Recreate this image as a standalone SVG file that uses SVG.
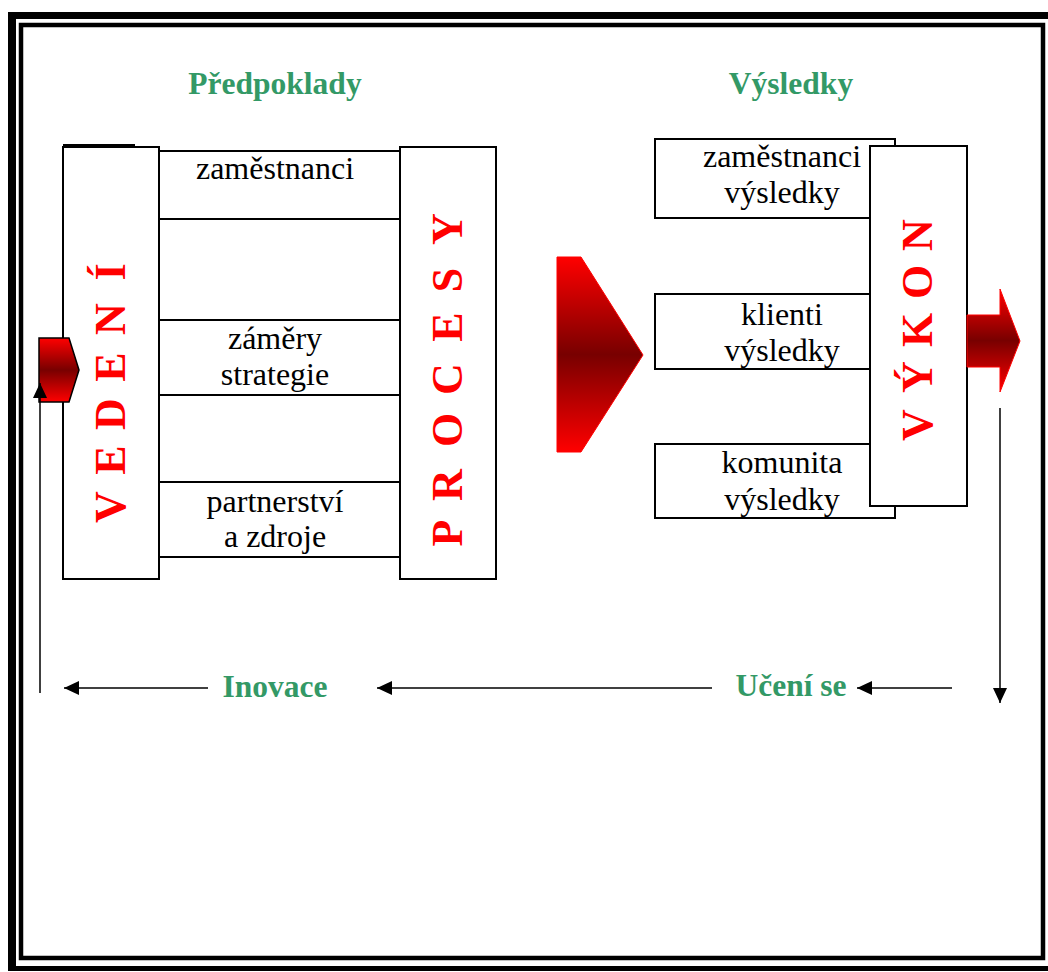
<svg xmlns="http://www.w3.org/2000/svg" width="1048" height="972" viewBox="0 0 1048 972">
<style>
.box{fill:#fff;stroke:#000;stroke-width:2}
.lbl{font-family:"Liberation Serif","Times New Roman",serif;font-size:32px;fill:#000;text-anchor:middle}
.ttl{font-family:"Liberation Serif","Times New Roman",serif;font-size:31.5px;font-weight:bold;fill:#339966;text-anchor:middle}
.vert{font-family:"Liberation Serif","Times New Roman",serif;font-size:44px;font-weight:bold;fill:#ff0000;text-anchor:middle}
.conn{stroke:#000;stroke-width:1.5;fill:none;marker-end:url(#ah)}
</style>
<defs>
<linearGradient id="rg" x1="0" y1="0" x2="0" y2="1">
<stop offset="0" stop-color="#ff0000"/>
<stop offset="0.5" stop-color="#780000"/>
<stop offset="1" stop-color="#ff0000"/>
</linearGradient>
<marker id="ah" markerUnits="userSpaceOnUse" markerWidth="15" markerHeight="14" refX="15" refY="7" orient="auto">
<path d="M0,0 L15,7 L0,14 z" fill="#000"/>
</marker>
</defs>
<rect width="1048" height="972" fill="#fff"/>
<g id="frame">
<rect x="8" y="12" width="1040" height="7" fill="#000"/>
<rect x="8" y="12" width="8" height="959" fill="#000"/>
<rect x="8" y="966" width="1040" height="5" fill="#000"/>
<rect x="21" y="25" width="1022" height="933" fill="none" stroke="#000" stroke-width="4.5"/>
</g>
<g id="title-predpoklady"><text class="ttl" x="275" y="94">Předpoklady</text></g>
<g id="title-vysledky"><text class="ttl" x="791" y="94">Výsledky</text></g>
<g id="zamestnanci">
<rect class="box" x="140" y="151" width="280" height="68"/>
<text class="lbl" x="275" y="179">zaměstnanci</text>
</g>
<g id="zamery">
<rect class="box" x="140" y="320" width="280" height="75"/>
<text class="lbl" x="275" y="349">záměry</text>
<text class="lbl" x="275" y="385">strategie</text>
</g>
<g id="partnerstvi">
<rect class="box" x="140" y="482" width="280" height="75"/>
<text class="lbl" x="275" y="512">partnerství</text>
<text class="lbl" x="275" y="547">a zdroje</text>
</g>
<g id="vedeni">
<line x1="63" y1="145" x2="135" y2="145" stroke="#000" stroke-width="2"/>
<rect class="box" x="63" y="147" width="96" height="432"/>
<text class="vert" transform="translate(125,0) rotate(-90)"><tspan x="-507" y="0">V</tspan><tspan x="-460" y="0">E</tspan><tspan x="-414" y="0">D</tspan><tspan x="-367" y="0">E</tspan><tspan x="-319" y="0">N</tspan><tspan x="-272" y="0">Í</tspan></text>
</g>
<g id="procesy">
<rect class="box" x="400" y="147" width="96" height="432"/>
<text class="vert" transform="translate(462,0) rotate(-90)"><tspan x="-533" y="0">P</tspan><tspan x="-485" y="0">R</tspan><tspan x="-430" y="0">O</tspan><tspan x="-379" y="0">C</tspan><tspan x="-327" y="0">E</tspan><tspan x="-280" y="0">S</tspan><tspan x="-229" y="0">Y</tspan></text>
</g>
<g id="vedeni-arrow">
<polygon points="39,338 69,338 79,370 69,402 39,402" fill="url(#rg)" stroke="#000" stroke-width="1.5"/>
</g>
<g id="big-arrow">
<polygon points="557,257 581,257 643,355 581,452 557,452" fill="url(#rg)" stroke="#ff0000" stroke-width="1"/>
</g>
<g id="zamestnanci-vysledky">
<rect class="box" x="655" y="139" width="240" height="79"/>
<text class="lbl" x="782" y="167">zaměstnanci</text>
<text class="lbl" x="782" y="203">výsledky</text>
</g>
<g id="klienti-vysledky">
<rect class="box" x="655" y="294" width="240" height="75"/>
<text class="lbl" x="782" y="325">klienti</text>
<text class="lbl" x="782" y="361">výsledky</text>
</g>
<g id="komunita-vysledky">
<rect class="box" x="655" y="444" width="240" height="74"/>
<text class="lbl" x="782" y="473">komunita</text>
<text class="lbl" x="782" y="510">výsledky</text>
</g>
<g id="vykon">
<rect class="box" x="870" y="146" width="97" height="360"/>
<text class="vert" transform="translate(932,0) rotate(-90)"><tspan x="-425" y="0">V</tspan><tspan x="-377" y="0">Ý</tspan><tspan x="-330" y="0">K</tspan><tspan x="-282" y="0">O</tspan><tspan x="-235" y="0">N</tspan></text>
</g>
<g id="vykon-arrow">
<polygon points="967,315 1000,315 1000,289 1020,341 1000,392 1000,367 967,367" fill="url(#rg)" stroke="#ff0000" stroke-width="1"/>
</g>
<g id="label-uceni"><text class="ttl" x="791" y="696">Učení se</text></g>
<g id="label-inovace"><text class="ttl" x="275" y="697">Inovace</text></g>
<g id="connectors">
<line class="conn" x1="1000" y1="408" x2="1000" y2="703"/>
<line class="conn" x1="952" y1="688" x2="857" y2="688"/>
<line class="conn" x1="712" y1="688" x2="377" y2="688"/>
<line class="conn" x1="208" y1="688" x2="64" y2="688"/>
<line class="conn" x1="40" y1="693" x2="40" y2="383"/>
</g>
</svg>
